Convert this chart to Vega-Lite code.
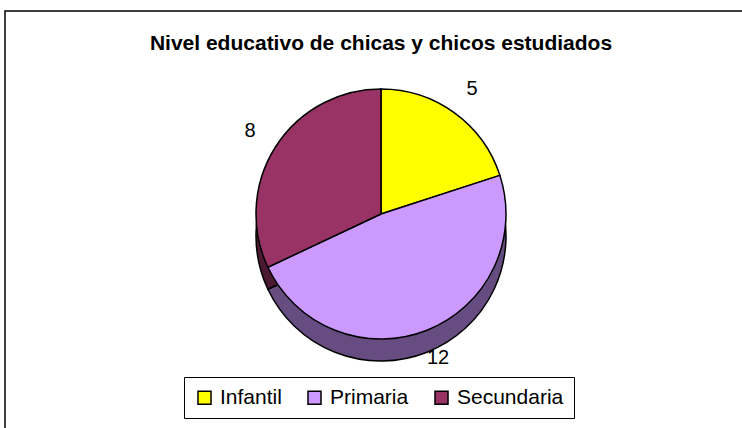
{
  "$schema": "https://vega.github.io/schema/vega-lite/v6.json",
  "autosize": {"type": "none"},
  "width": 752,
  "height": 430,
  "padding": {"left": 5, "top": 11, "right": 0, "bottom": 0},
  "background": "white",
  "config": {
    "view": {"stroke": null},
    "font": "Liberation Sans"
  },
  "title": {
    "text": "Nivel educativo de chicas y chicos estudiados",
    "orient": "top",
    "anchor": "middle",
    "offset": -39,
    "dy": 22,
    "baseline": "alphabetic",
    "font": "Liberation Sans",
    "fontSize": 21,
    "fontWeight": "bold",
    "color": "black"
  },
  "data": {
    "values": [
      {"categoria": "Infantil", "valor": 5, "orden": 1},
      {"categoria": "Primaria", "valor": 12, "orden": 2},
      {"categoria": "Secundaria", "valor": 8, "orden": 3}
    ]
  },
  "layer": [
    {
      "data": {"values": [{"marco": 1}]},
      "mark": {"type": "rect", "fill": null, "stroke": "black", "strokeWidth": 1.5},
      "encoding": {}
    },
    {
      "mark": {"type": "arc", "outerRadius": 125, "yOffset": 10, "stroke": "black", "strokeWidth": 1.5},
      "encoding": {
        "theta": {"field": "valor", "type": "quantitative", "stack": true},
        "order": {"field": "orden", "type": "quantitative"},
        "color": {
          "field": "categoria",
          "type": "nominal",
          "scale": {"domain": ["Infantil", "Primaria", "Secundaria"], "range": ["#808000", "#664C80", "#4C1933"]},
          "legend": null
        }
      }
    },
    {
      "mark": {"type": "arc", "outerRadius": 125, "yOffset": -12, "stroke": "black", "strokeWidth": 1.5},
      "encoding": {
        "theta": {"field": "valor", "type": "quantitative", "stack": true},
        "order": {"field": "orden", "type": "quantitative"},
        "color": {
          "field": "categoria",
          "type": "nominal",
          "scale": {"domain": ["Infantil", "Primaria", "Secundaria"], "range": ["#FFFF00", "#CC99FF", "#993366"]},
          "legend": {
            "title": null,
            "orient": "none",
            "direction": "horizontal",
            "legendX": 179,
            "legendY": 366,
            "strokeColor": "black",
            "padding": 10,
            "symbolType": "square",
            "symbolSize": 170,
            "symbolStrokeColor": "black",
            "symbolStrokeWidth": 1.5,
            "labelFont": "Liberation Sans",
            "labelFontSize": 21,
            "labelColor": "black",
            "columnPadding": 22,
            "symbolOffset": 0,
            "labelOffset": 5
          }
        }
      }
    },
    {
      "mark": {"type": "text", "radius": 155, "yOffset": -12, "font": "Liberation Sans", "fontSize": 20, "color": "black"},
      "encoding": {
        "theta": {"field": "valor", "type": "quantitative", "stack": true},
        "order": {"field": "orden", "type": "quantitative"},
        "text": {"field": "valor", "type": "quantitative"}
      }
    }
  ],
  "resolve": {"scale": {"color": "independent"}, "legend": {"color": "independent"}}
}
